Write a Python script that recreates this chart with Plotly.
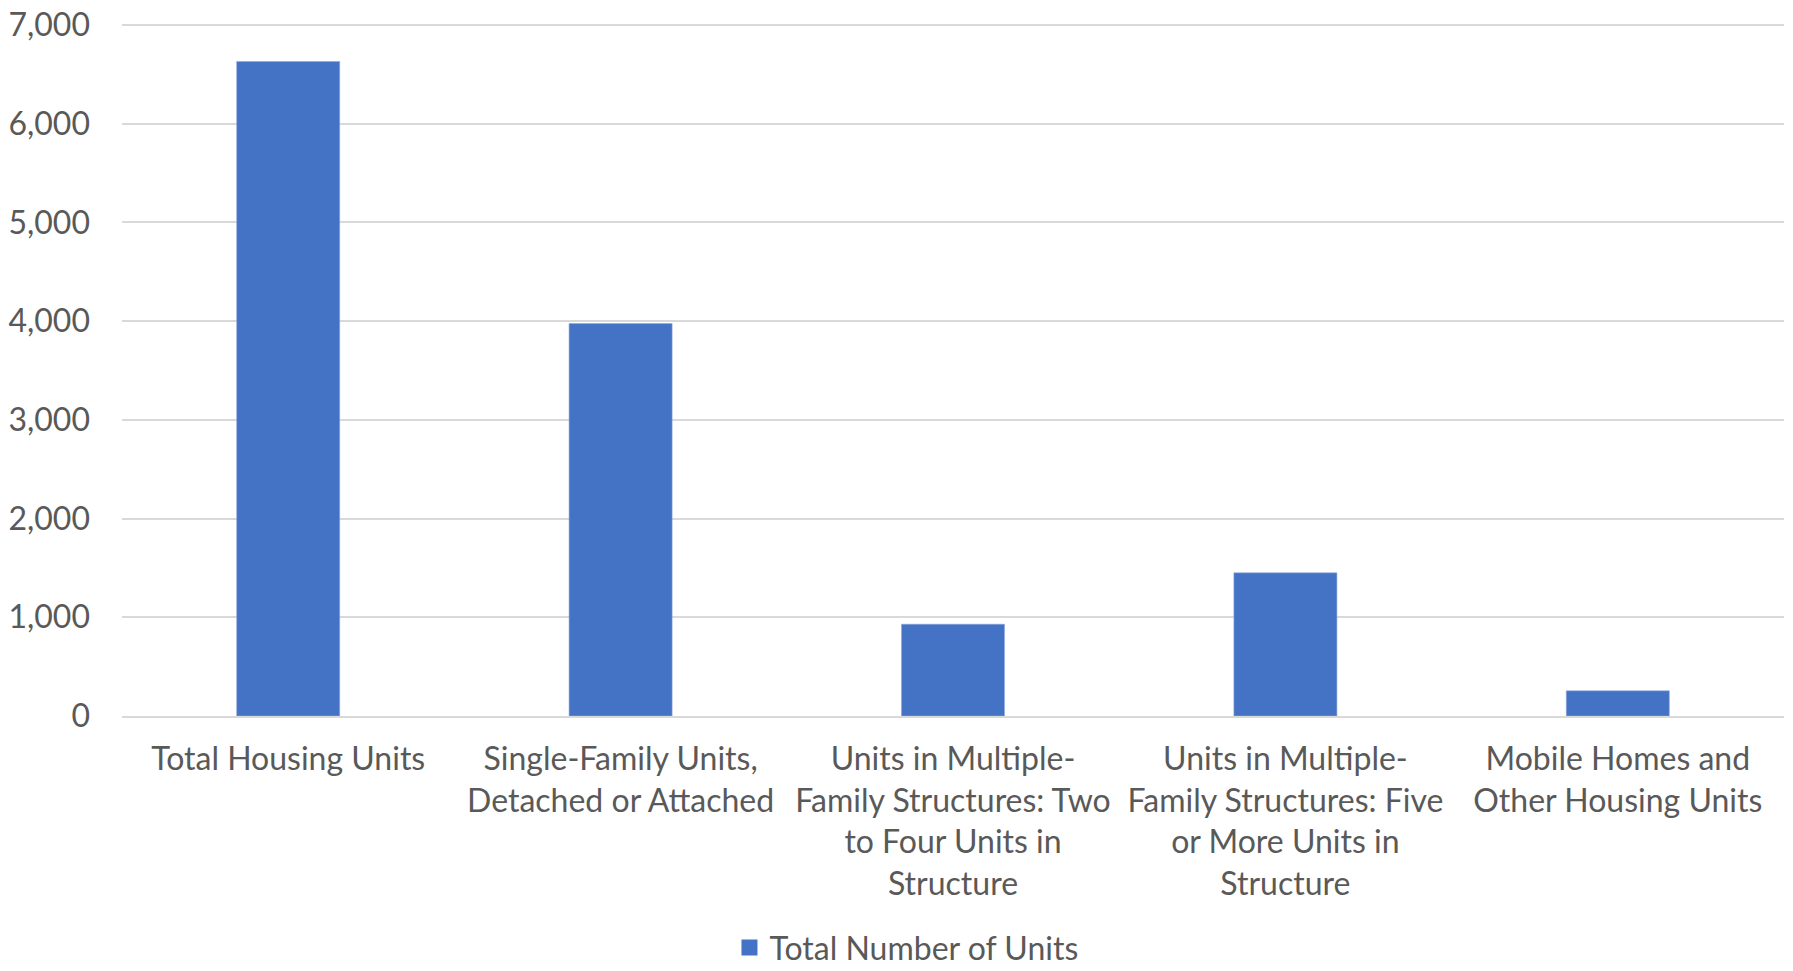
import plotly.graph_objects as go

categories = [
    "Total Housing Units",
    "Single-Family Units,<br>Detached or Attached",
    "Units in Multiple-<br>Family Structures: Two<br>to Four Units in<br>Structure",
    "Units in Multiple-<br>Family Structures: Five<br>or More Units in<br>Structure",
    "Mobile Homes and<br>Other Housing Units",
]
values = [6630, 3975, 930, 1450, 255]
series_name = "Total Number of Units"
y_ticks = [0, 1000, 2000, 3000, 4000, 5000, 6000, 7000]

FONT = "Lato, Carlito, Calibri, sans-serif"
TXT = "#595959"
GRID = "#D9D9D9"
BAR = "#4472C4"
FS = 32

fig = go.Figure()
fig.add_trace(go.Bar(
    x=categories, y=values, name=series_name,
    marker=dict(color=BAR, line=dict(color="#8EA9DB", width=0.6)),
    showlegend=False,
))
# legend entry with a larger square swatch
fig.add_trace(go.Scatter(
    x=[None], y=[None], mode="markers", name=series_name,
    marker=dict(symbol="square", size=16, color=BAR),
    showlegend=True, hoverinfo="skip",
))

fig.update_layout(
    width=1793, height=971,
    margin=dict(l=122, r=9, t=22, b=255, autoexpand=False),
    paper_bgcolor="white", plot_bgcolor="white",
    font=dict(family=FONT, size=FS, color=TXT),
    bargap=0.69,
    legend=dict(orientation="h", x=0.472, xanchor="center",
                yref="container", y=0.024, yanchor="middle",
                font=dict(size=FS, color=TXT), itemsizing="trace",
                itemwidth=30, tracegroupgap=0),
    xaxis=dict(showgrid=False, showline=True, linecolor=GRID, linewidth=1.5,
               automargin=False,
               ticks="", tickfont=dict(size=FS, color=TXT), ticklabelstandoff=14),
    yaxis=dict(range=[0, 7030], tickvals=y_ticks, tickformat=",d",
               automargin=False, ticklabeloverflow="allow",
               showgrid=True, gridcolor=GRID, gridwidth=1.5, zeroline=False,
               showline=False, ticks="", tickfont=dict(size=FS, color=TXT),
               ticklabelstandoff=31),
)

fig.write_html("out.html", config={"displayModeBar": False},
               post_script="document.body.style.margin='0';")
